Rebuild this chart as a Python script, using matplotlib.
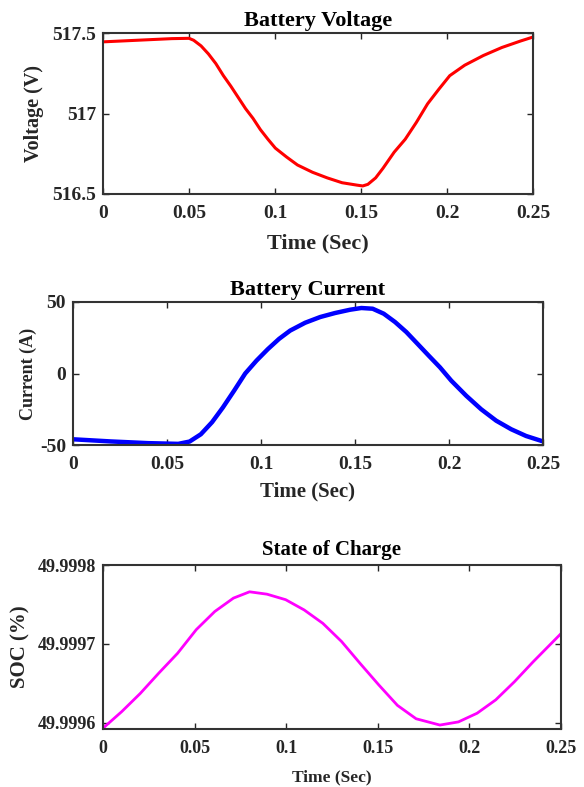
import matplotlib
matplotlib.use("Agg")
import matplotlib.pyplot as plt

plt.rcParams['font.family'] = ['Liberation Serif', 'DejaVu Serif']
plt.rcParams['font.weight'] = 'bold'
plt.rcParams['axes.unicode_minus'] = False

# battery voltage (V)
t_v = [0, 0.01, 0.02, 0.03, 0.04, 0.05, 0.0527, 0.057, 0.0613, 0.0656, 0.07, 0.0743,
       0.0786, 0.0829, 0.0872, 0.0915, 0.0959, 0.1002, 0.1067, 0.1131, 0.1218, 0.1304,
       0.139, 0.1477, 0.151, 0.154, 0.1585, 0.1628, 0.1693, 0.1757, 0.1822, 0.1887,
       0.1952, 0.2016, 0.2103, 0.2211, 0.2319, 0.2427, 0.25]
volt = [517.445, 517.45, 517.455, 517.46, 517.465, 517.467, 517.455, 517.42, 517.37,
        517.31, 517.235, 517.17, 517.10, 517.03, 516.97, 516.90, 516.84, 516.785, 516.73,
        516.68, 516.635, 516.60, 516.57, 516.555, 516.55, 516.56, 516.60, 516.66, 516.76,
        516.84, 516.945, 517.06, 517.15, 517.235, 517.30, 517.36, 517.41, 517.45, 517.475]

# battery current (A)
t_i = [0, 0.02, 0.04, 0.056, 0.062, 0.068, 0.074, 0.0797, 0.0857, 0.0916, 0.0976,
       0.1036, 0.1096, 0.1155, 0.1235, 0.1315, 0.1394, 0.1474, 0.1534, 0.1594, 0.1653,
       0.1713, 0.1773, 0.1833, 0.1892, 0.1952, 0.2012, 0.2092, 0.2171, 0.2251, 0.2331,
       0.241, 0.25]
curr = [-46, -47.5, -48.7, -49.2, -47.6, -42.5, -34, -23.8, -12, 0, 9, 17, 24.2, 30,
        35.5, 39.5, 42.3, 44.6, 45.8, 45.3, 41.8, 36, 29, 20.7, 12.5, 4.3, -5, -15.6,
        -25, -33, -39, -43.7, -47.5]

# state of charge (%)
t_s = [0, 0.0102, 0.0203, 0.0305, 0.0407, 0.0509, 0.061, 0.0712, 0.08, 0.0895, 0.0997,
       0.1098, 0.12, 0.1302, 0.1404, 0.1505, 0.1607, 0.1709, 0.1839, 0.194, 0.2042,
       0.2144, 0.2246, 0.2347, 0.25]
soc = [49.999593, 49.999614, 49.999637, 49.999663, 49.999688, 49.999718, 49.999741,
       49.999758, 49.999766, 49.999763, 49.999756, 49.999743, 49.999726, 49.999703,
       49.999675, 49.999648, 49.999622, 49.999605, 49.999597, 49.999601, 49.999612,
       49.999629, 49.999652, 49.999677, 49.999713]

xt = [0, 0.05, 0.1, 0.15, 0.2, 0.25]
xtl = ['0', '0.05', '0.1', '0.15', '0.2', '0.25']

W, H = 584, 787
fig = plt.figure(figsize=(W / 100, H / 100), dpi=100)


def box(l, r, top, bot):
    return [l / W, 1 - bot / H, (r - l) / W, (bot - top) / H]


def style(ax, ts):
    for s in ax.spines.values():
        s.set_color('#333333')
        s.set_linewidth(1.5)
    ax.tick_params(direction='in', top=True, right=True, length=4, width=1,
                   colors='#262626', labelsize=ts)
    ax.tick_params(axis='x', pad=8)
    ax.tick_params(axis='y', pad=5)
    for lab in ax.get_xticklabels() + ax.get_yticklabels():
        lab.set_fontweight('bold')


ax1 = fig.add_axes(box(103, 533, 33, 194))
ax1.plot(t_v, volt, color='red', lw=2.2)
ax1.set_xlim(0, 0.25)
ax1.set_ylim(516.5, 517.5)
ax1.set_yticks([516.5, 517, 517.5])
ax1.set_yticklabels(['516.5', '517', '517.5'])
ax1.set_xticks(xt)
ax1.set_xticklabels(xtl)
ax1.set_title('Battery Voltage', fontsize=16, fontweight='bold', color='black', pad=5)
ax1.set_xlabel('Time (Sec)', fontsize=16, fontweight='bold', color='#262626', labelpad=8)
ax1.set_ylabel('Voltage (V)', fontsize=14.5, fontweight='bold', color='#262626', labelpad=6)
style(ax1, 14)

ax2 = fig.add_axes(box(73, 543, 302, 445))
ax2.plot(t_i, curr, color='blue', lw=3.2)
ax2.set_xlim(0, 0.25)
ax2.set_ylim(-50, 50)
ax2.set_yticks([-50, 0, 50])
ax2.set_xticks(xt)
ax2.set_xticklabels(xtl)
ax2.set_title('Battery Current', fontsize=16, fontweight='bold', color='black', pad=5)
ax2.set_xlabel('Time (Sec)', fontsize=15, fontweight='bold', color='#262626', labelpad=6)
ax2.set_ylabel('Current (A)', fontsize=13, fontweight='bold', color='#262626', labelpad=2)
style(ax2, 14)

ax3 = fig.add_axes(box(103, 561, 565, 729))
ax3.plot(t_s, soc, color='magenta', lw=2)
ax3.set_xlim(0, 0.25)
ax3.set_ylim(49.999592, 49.9998)
ax3.set_yticks([49.9996, 49.9997, 49.9998])
ax3.set_yticklabels(['49.9996', '49.9997', '49.9998'])
ax3.set_xticks(xt)
ax3.set_xticklabels(xtl)
ax3.set_title('State of Charge', fontsize=15, fontweight='bold', color='black', pad=7)
ax3.set_xlabel('Time (Sec)', fontsize=12.5, fontweight='bold', color='#262626', labelpad=9)
ax3.set_ylabel('SOC (%)', fontsize=15, fontweight='bold', color='#262626', labelpad=5)
style(ax3, 13)

fig.savefig('out.png', dpi=100)
